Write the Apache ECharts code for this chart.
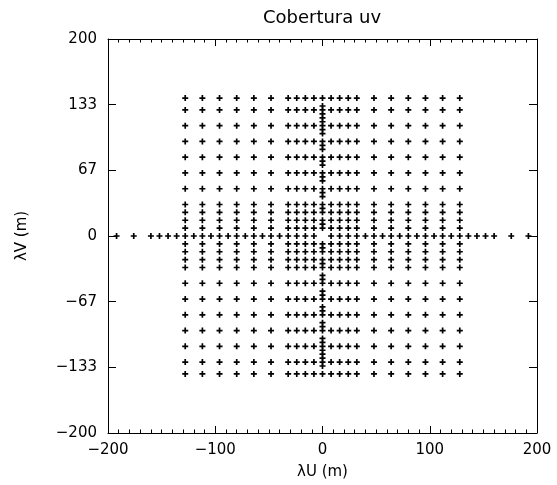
<!DOCTYPE html>
<html>
<head>
<meta charset="utf-8">
<script src="https://cdn.jsdelivr.net/npm/echarts@6/dist/echarts.min.js"></script>
<style>
  html, body { margin: 0; padding: 0; background: #fff; }
  #chart { width: 557px; height: 485px; }
</style>
</head>
<body>
<div id="chart"></div>
<script>
// ---- data ----
const chartTitle = 'Cobertura uv';
const xAxisTitle = 'λU (m)';
const yAxisTitle = 'λV (m)';

// columns (u) and rows (v) of the rectangular grid of uv points
const gridU = [-128, -112, -96, -80, -64, -48, -32, -24, -16, -8,
               8, 16, 24, 32, 48, 64, 80, 96, 112, 128];
const gridV = [-140, -128, -112, -96, -80, -64, -48, -32, -24, -16, -8,
               8, 16, 24, 32, 48, 64, 80, 96, 112, 128, 140];

// points on the v = 0 line
const rowZeroU = [-192, -176, -160, -152, -144, -136, -128, -120, -112, -104,
                  -96, -88, -80, -72, -64, -56, -48, -40, -32, -24, -16, -8,
                  8, 16, 24, 32, 40, 48, 56, 64, 72, 80, 88, 96, 104, 112,
                  120, 128, 136, 144, 152, 160, 176, 192];

// points on the u = 0 line
const colZeroV = [-140, -132, -128, -124, -120, -116, -112, -108, -104,
                  -96, -92, -88, -80, -76, -72, -64, -60, -56, -48, -44, -40,
                  -32, -28, -24, -16, -12, -8,
                  8, 12, 16, 24, 28, 32, 40, 44, 48, 56, 60, 64, 72, 76, 80,
                  88, 92, 96, 104, 108, 112, 116, 120, 124, 128, 132, 140];

// axis ticks
const xTickValues = [-200, -100, 0, 100, 200];
const yTickLabels = ['-200', '-133', '-67', '0', '67', '133', '200'];
const yMin = -200, yMax = 200, ySteps = 6;

// ---- build the point table ----
const points = [];
gridV.forEach(v => gridU.forEach(u => points.push([u, v])));
rowZeroU.forEach(u => points.push([u, 0]));
colZeroV.forEach(v => points.push([0, v]));

const minus = s => String(s).replace('-', '\u2212');
const FONT = 'DejaVu Sans';
const plus = 'path://M3.6,0H6.4V3.6H10V6.4H6.4V10H3.6V6.4H0V3.6H3.6Z';

const axisCommon = {
  type: 'value',
  axisLine: { show: true, onZero: false, lineStyle: { color: '#000', width: 1 } },
  splitLine: { show: false },
  minorSplitLine: { show: false }
};

const xBase = Object.assign({}, axisCommon, {
  min: xTickValues[0], max: xTickValues[xTickValues.length - 1],
  interval: xTickValues[1] - xTickValues[0],
  axisTick: { show: true, inside: true, length: 7, lineStyle: { color: '#000', width: 1 } },
  minorTick: { show: true, splitNumber: 10, length: 3.5, lineStyle: { color: '#000', width: 1 } }
});

const yStep = (yMax - yMin) / ySteps;
const yLabel = v => yTickLabels[Math.round((v - yMin) / yStep)];
const yBase = Object.assign({}, axisCommon, {
  min: yMin, max: yMax, interval: yStep,
  axisTick: { show: true, inside: true, length: 8, lineStyle: { color: '#000', width: 1 } },
  minorTick: { show: false }
});

const txt = { fontFamily: FONT, fontSize: 15, fontWeight: 'normal', color: '#000' };

const chart = echarts.init(document.getElementById('chart'), null, { renderer: 'canvas' });
chart.setOption({
  backgroundColor: '#fff',
  animation: false,
  grid: { left: 108, right: 20, top: 39, bottom: 51, containLabel: false },
  graphic: [{
    type: 'text', x: 322, y: 18,
    style: { text: chartTitle, textAlign: 'center', textVerticalAlign: 'middle',
             fontFamily: FONT, fontSize: 18, fontWeight: 'normal', fill: '#000' }
  }],
  xAxis: [
    Object.assign({}, xBase, {
      position: 'bottom',
      name: xAxisTitle, nameLocation: 'middle', nameGap: 32,
      nameTextStyle: Object.assign({}, txt),
      axisLabel: Object.assign({ show: true, margin: 10, formatter: v => minus(v) }, txt)
    }),
    Object.assign({}, xBase, { position: 'top', axisLabel: { show: false } })
  ],
  yAxis: [
    Object.assign({}, yBase, {
      position: 'left',
      name: yAxisTitle, nameLocation: 'middle', nameGap: 78, nameRotate: 90,
      nameTextStyle: Object.assign({}, txt),
      axisLabel: Object.assign({ show: true, margin: 11, formatter: v => minus(yLabel(v)) }, txt)
    }),
    Object.assign({}, yBase, { position: 'right', axisLabel: { show: false } })
  ],
  series: [{
    type: 'scatter',
    xAxisIndex: 0, yAxisIndex: 0,
    data: points,
    symbol: plus,
    symbolSize: 6,
    itemStyle: { color: '#000', opacity: 1 },
    silent: true
  }]
});
</script>
</body>
</html>
